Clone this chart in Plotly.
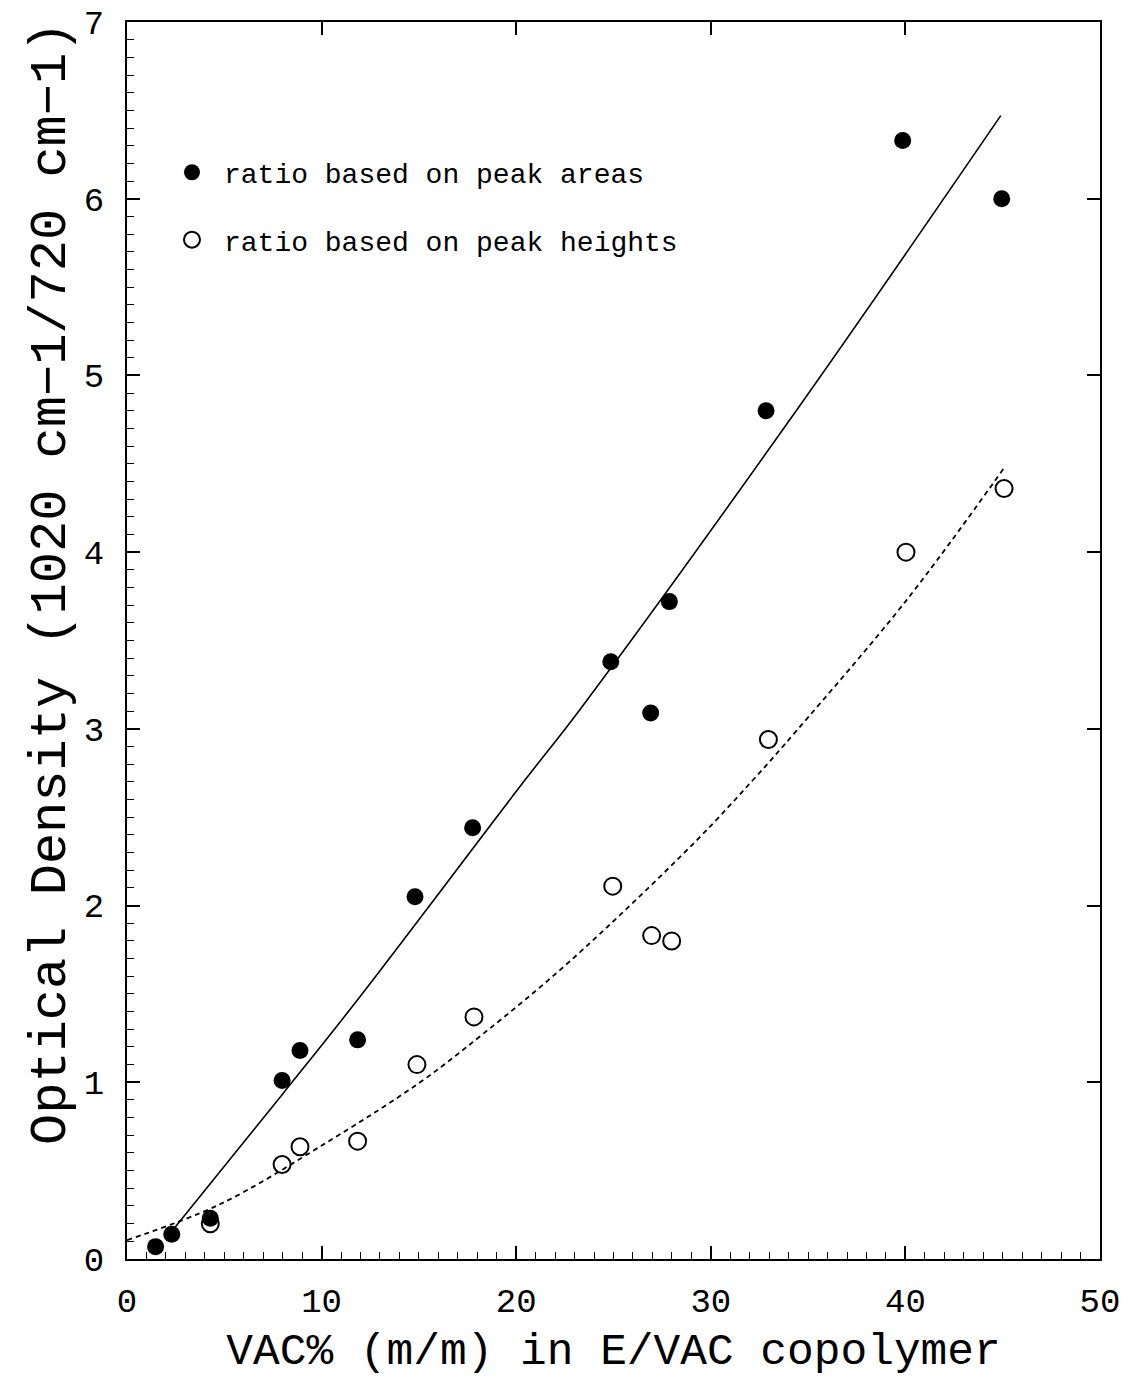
import plotly.graph_objects as go

# Data
vac_area = [1.47, 2.30, 4.28, 7.97, 8.89, 11.85, 14.8, 17.76, 24.86, 26.91, 27.87, 32.84, 39.86, 44.95]
od_area = [0.07, 0.14, 0.23, 1.01, 1.18, 1.24, 2.05, 2.44, 3.38, 3.09, 3.72, 4.80, 6.33, 6.00]

vac_height = [4.28, 7.97, 8.89, 11.85, 14.9, 17.83, 24.96, 26.96, 27.99, 32.96, 40.03, 45.07]
od_height = [0.20, 0.535, 0.635, 0.667, 1.10, 1.37, 2.11, 1.83, 1.80, 2.94, 4.00, 4.36]

# Fitted curves
fit_area_x = [2.47, 7.97, 11.83, 20.45, 23.28, 34.58, 44.9]
fit_area_y = [0.18, 0.93, 1.464, 2.71, 3.11, 4.83, 6.47]

fit_height_x = [0.0, 4.78, 10.43, 15.06, 18.31, 22.76, 29.19, 32.18, 34.41, 40.07, 45.03]
fit_height_y = [0.107, 0.31, 0.671, 1.0, 1.275, 1.685, 2.36, 2.712, 2.99, 3.73, 4.47]

x_title = "VAC% (m/m) in E/VAC copolymer"
y_title = "Optical Density (1020 cm\u22121/720 cm\u22121)"
legend_area = "ratio based on peak areas"
legend_height = "ratio based on peak heights"

FONT = "Liberation Mono, Courier New, monospace"

fig = go.Figure()
fig.add_trace(go.Scatter(x=fit_area_x, y=fit_area_y, mode="lines",
                         line=dict(color="black", width=1.6, shape="spline"),
                         showlegend=False, hoverinfo="skip", xaxis="x2", yaxis="y2"))
fig.add_trace(go.Scatter(x=fit_height_x, y=fit_height_y, mode="lines",
                         line=dict(color="black", width=1.8, dash="5px,4px", shape="spline"),
                         showlegend=False, hoverinfo="skip"))
fig.add_trace(go.Scatter(x=vac_area, y=od_area, mode="markers", name=legend_area, legendgroup="a",
                         marker=dict(symbol="circle", size=17, color="black")))
fig.add_trace(go.Scatter(x=vac_height, y=od_height, mode="markers", name=legend_height, legendgroup="b",
                         marker=dict(symbol="circle-open", size=17, color="black",
                                     line=dict(width=2, color="black"))))

axis_common = dict(showgrid=False, zeroline=False, showline=True, linecolor="black", linewidth=2.2,
                   ticks="inside", tickcolor="black", tickwidth=1.6, automargin=False)

fig.update_layout(
    width=1128, height=1376,
    paper_bgcolor="white", plot_bgcolor="white",
    margin=dict(l=119, r=36, t=14, b=125),
    font=dict(family=FONT, color="black", size=30),
    xaxis=dict(range=[0, 50], dtick=10, tick0=0, ticklen=13,
               minor=dict(dtick=1, ticks="inside", ticklen=7, tickcolor="black", tickwidth=1.3),
               tickfont=dict(size=34), ticklabelstandoff=10, ticklabeloverflow="allow",
               title=dict(text=x_title, font=dict(size=44.5), standoff=12), **axis_common),
    yaxis=dict(range=[0, 7], dtick=1, tick0=0, ticklen=13,
               minor=dict(dtick=0.1, ticks="inside", ticklen=7, tickcolor="black", tickwidth=1.3),
               tickfont=dict(size=34), ticklabelstandoff=14, ticklabeloverflow="allow", **axis_common),
    xaxis2=dict(range=[0, 50], dtick=10, tick0=0, ticklen=13, overlaying="x", side="top", anchor="y2",
                showticklabels=False, **axis_common),
    yaxis2=dict(range=[0, 7], dtick=1, tick0=0, ticklen=13, overlaying="y", side="right", anchor="x2",
                showticklabels=False, **axis_common),
    legend=dict(x=0.0339, y=0.8985, xanchor="left", yanchor="top", bgcolor="rgba(0,0,0,0)",
                font=dict(size=28), tracegroupgap=28, itemwidth=54),
    showlegend=True,
    annotations=[dict(text=y_title, textangle=-90, xref="paper", yref="paper", x=0, y=0.5457,
                      xanchor="center", yanchor="middle", xshift=-75, showarrow=False,
                      font=dict(size=52, family=FONT, color="black"))],
)

fig.write_html("out.html")
